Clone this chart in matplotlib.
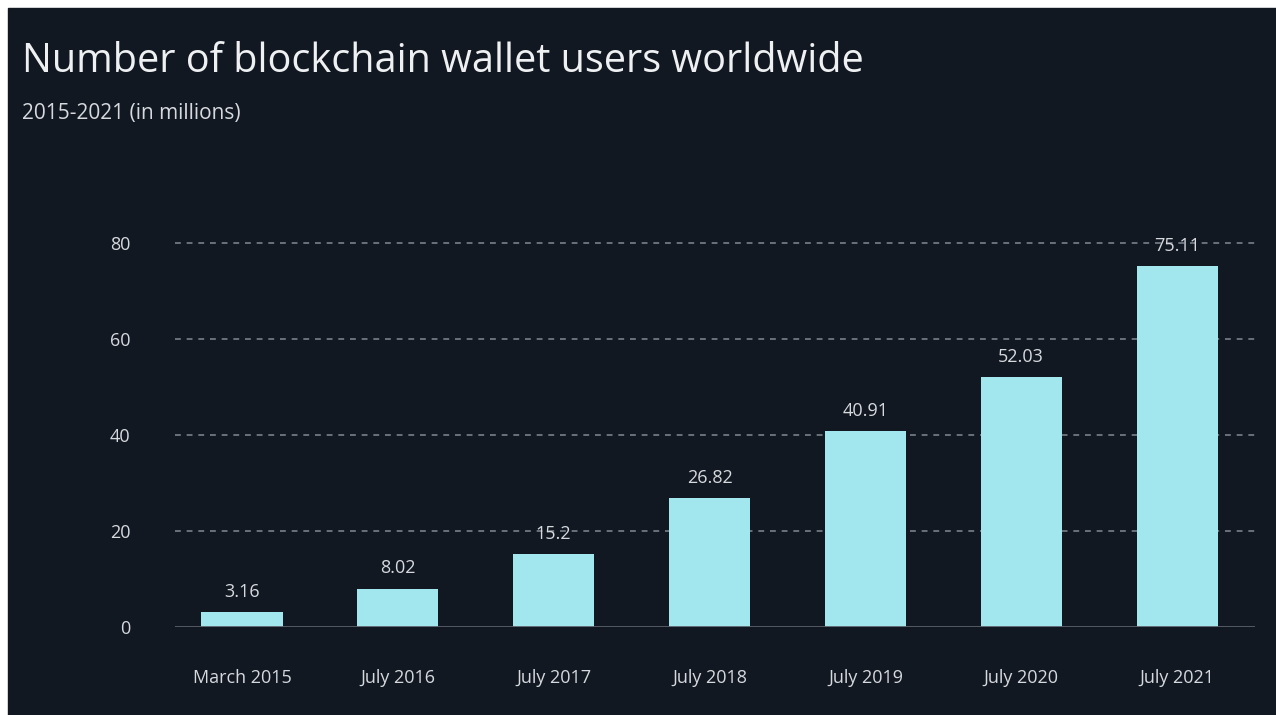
import numpy as np, matplotlib
matplotlib.use('Agg')
import matplotlib.pyplot as plt

BG = '#111821'
BAR = '#a2e6ee'
TXT = '#d6d9de'

periods = ["March 2015", "July 2016", "July 2017", "July 2018",
           "July 2019", "July 2020", "July 2021"]
users = [3.16, 8.02, 15.2, 26.82, 40.91, 52.03, 75.11]
labels = ["3.16", "8.02", "15.2", "26.82", "40.91", "52.03", "75.11"]
yticks = [0, 20, 40, 60, 80]

fig = plt.figure(figsize=(12.76, 7.15), dpi=100, facecolor='white')
# dark panel, white strip at top/left like the screenshot
fig.patches.append(plt.Rectangle((8 / 1276, 0), 1, 1 - 8 / 715,
                                 transform=fig.transFigure, color=BG, zorder=-5))

ax = fig.add_axes([175 / 1276, (715 - 627) / 715, (1255 - 175) / 1276, (627 - 243) / 715])
ax.set_facecolor(BG)
x = np.arange(len(periods))
ax.bar(x, users, width=0.52, color=BAR, zorder=3)
ax.set_xlim(-0.43, 6.5)
ax.set_ylim(0, 80)

for yv in yticks[1:]:
    ax.axhline(yv, color='#7a8089', lw=1.2, ls=(0, (3.5, 3.5)), zorder=1, clip_on=False)
ax.axhline(0, color='#5a6069', lw=2, zorder=4)

for xi, v, s in zip(x, users, labels):
    ax.text(xi, v + 2.3, s, ha='center', va='bottom', color=TXT, fontsize=13,
            family='Open Sans')

ax.set_yticks(yticks)
ax.set_yticklabels([str(t) for t in yticks], color=TXT, fontsize=13, family='Open Sans')
ax.set_xticks(x)
ax.set_xticklabels(periods, color=TXT, fontsize=13, family='Open Sans')
ax.tick_params(length=0)
ax.tick_params(axis='y', pad=32)
ax.tick_params(axis='x', pad=30)
for sp in ax.spines.values():
    sp.set_visible(False)

fig.text(22 / 1276, 1 - 62 / 715, 'Number of blockchain wallet users worldwide',
         color='#eef0f2', fontsize=28.5, va='center', ha='left', family='Open Sans')
fig.text(22 / 1276, 1 - 113 / 715, '2015-2021 (in millions)',
         color=TXT, fontsize=15, va='center', ha='left', family='Open Sans')

fig.savefig('out.png', dpi=100, facecolor=fig.get_facecolor())
